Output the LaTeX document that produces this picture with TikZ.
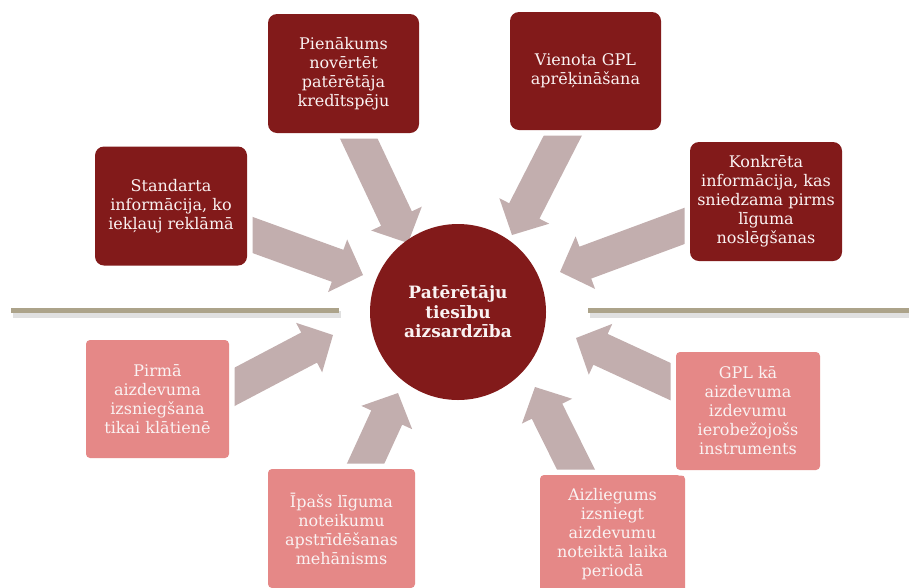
\documentclass[tikz,border=0pt]{standalone}
\usepackage{fontspec}
\setmainfont{DejaVu Serif}
\usetikzlibrary{calc}
\definecolor{darkbox}{HTML}{821A1A}
\definecolor{pinkbox}{HTML}{E58887}
\definecolor{arrowc}{HTML}{C2AEAE}
\definecolor{linec}{HTML}{ACA38A}
\definecolor{txt}{HTML}{FAF2F2}
\newcommand\blockarr[2]{%
  \coordinate (hb) at ($(#2)!27pt!(#1)$);
  \fill[arrowc] ($(#1)!17pt!90:(#2)$) -- ($(hb)!17pt!-90:(#1)$) -- ($(hb)!28pt!-90:(#1)$) -- (#2)
    -- ($(hb)!28pt!90:(#1)$) -- ($(hb)!17pt!90:(#1)$) -- ($(#1)!17pt!-90:(#2)$) -- cycle;}
\tikzset{
  boxtxt/.style={text=txt, align=center, inner sep=0pt, font=\fontsize{16}{19}\selectfont,
    preaction={draw=white, line width=11pt}},
  darkb/.style={boxtxt, fill=darkbox, rounded corners=9pt, minimum width=152pt, minimum height=119pt},
  pinkb/.style={boxtxt, fill=pinkbox, rounded corners=4pt, minimum height=119pt},
  sepline/.style={linec, line width=5pt},
  sepshadow/.style={black, opacity=0.12, line width=7pt},
}
\begin{document}
\begin{tikzpicture}[x=1pt,y=-1pt]
\useasboundingbox (0,0) rectangle (909,587);
% separator lines
\draw[sepshadow] (13,314) -- (341,314);
\draw[sepshadow] (590,314) -- (911,314);
\draw[sepline] (11,310.5) -- (339,310.5);
\draw[sepline] (588,310.5) -- (911,310.5);
% arrow coordinates
\coordinate (s1) at (214,221); \coordinate (t1) at (363,275);
\coordinate (s2) at (342,103); \coordinate (t2) at (408,243);
\coordinate (s3) at (581,100); \coordinate (t3) at (512,235);
\coordinate (s4) at (722,212); \coordinate (t4) at (560,272);
\coordinate (s5) at (200,405); \coordinate (t5) at (333,335);
\coordinate (s6) at (348,502); \coordinate (t6) at (398,393);
\coordinate (s7) at (706,398); \coordinate (t7) at (576,338);
\coordinate (s8) at (594,506); \coordinate (t8) at (535,387);
\blockarr{s1}{t1}
\blockarr{s2}{t2}
\blockarr{s3}{t3}
\blockarr{s4}{t4}
\blockarr{s5}{t5}
\blockarr{s6}{t6}
\blockarr{s7}{t7}
\blockarr{s8}{t8}
% hub
\node[circle, fill=darkbox, minimum size=176pt, inner sep=0pt, text=txt, align=center,
  font=\bfseries\fontsize{17}{19.5}\selectfont] (hub) at (458,312) {Patērētāju\\tiesību\\aizsardzība};
% boxes
\node[darkb] (b1) at (171,206) {Standarta\\informācija, ko\\iekļauj reklāmā};
\node[darkb, minimum width=151pt] (b2) at (343.5,73.5) {Pienākums\\novērtēt\\patērētāja\\kredītspēju};
\node[darkb, minimum width=151pt, minimum height=118pt] (b3) at (585.5,71) {Vienota GPL\\aprēķināšana};
\node[darkb] (b4) at (766,201.5) {Konkrēta\\informācija, kas\\sniedzama pirms\\līguma\\noslēgšanas};
\node[pinkb, minimum width=143pt, minimum height=118pt] (b5) at (157.5,399) {Pirmā\\aizdevuma\\izsniegšana\\tikai klātienē};
\node[pinkb, minimum width=147pt] (b6) at (341.5,528.5) {Īpašs līguma\\noteikumu\\apstrīdēšanas\\mehānisms};
\node[pinkb, minimum width=145pt] (b7) at (612.5,534.5) {Aizliegums\\izsniegt\\aizdevumu\\noteiktā laika\\periodā};
\node[pinkb, minimum width=144pt, minimum height=118pt] (b8) at (748,411) {GPL kā\\aizdevuma\\izdevumu\\ierobežojošs\\instruments};
\end{tikzpicture}
\end{document}
